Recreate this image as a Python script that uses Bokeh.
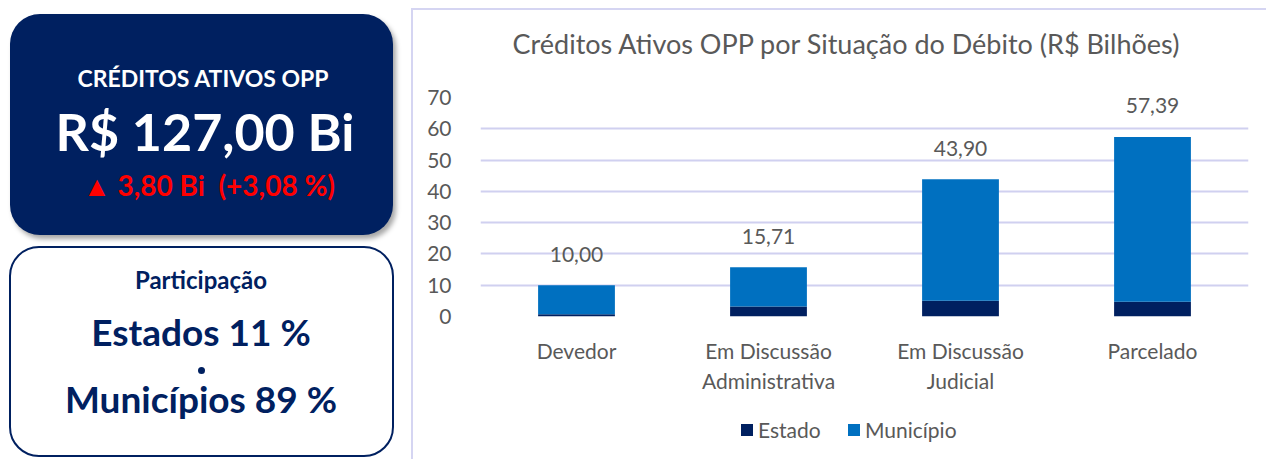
from bokeh.plotting import figure
from bokeh.models import (Range1d, FixedTicker, ColumnDataSource, LabelSet, FactorRange, Div)
from bokeh.layouts import row, column
from bokeh.embed import file_html
from bokeh.resources import INLINE
from bokeh.core.properties import value

# ---------------- data ----------------
categories = ["Devedor", "Em Discussão\nAdministrativa", "Em Discussão\nJudicial", "Parcelado"]
totals = [10.00, 15.71, 43.90, 57.39]
estado = [0.7, 3.2, 5.0, 4.7]
municipio = [round(t - e, 2) for t, e in zip(totals, estado)]
y_ticks = [0, 10, 20, 30, 40, 50, 60, 70]
series_names = ["Estado", "Município"]
series_colors = ["#002060", "#0070C0"]

kpi_title = "CRÉDITOS ATIVOS OPP"
kpi_value = "R$ 127,00 Bi"
kpi_change = "▲ 3,80 Bi  (+3,08 %)"
share_title = "Participação"
share_estados = "Estados 11 %"
share_municipios = "Municípios 89 %"
chart_title = "Créditos Ativos OPP por Situação do Débito (R$ Bilhões)"

FONT = "Lato"
NAVY = "#002060"
GRAY = "#595959"
GRID = "#D0D0F0"
BORDER = "#D5D5F2"


# ---------------- left cards (HTML) ----------------
def line(cx, baseline, text, size, color, weight="bold"):
    top = baseline - 0.887 * size
    return (f'<div style="position:absolute;left:{cx - 200}px;top:{top:.1f}px;width:400px;'
            f'text-align:center;font-family:{FONT};font-weight:{weight};font-size:{size}px;'
            f'line-height:1;color:{color};white-space:pre;">{text}</div>')

cards_html = (
    '<div style="position:relative;width:413px;height:459px;overflow:hidden;">'
    f'<div style="position:absolute;left:10px;top:14px;width:383px;height:221px;'
    f'background:{NAVY};border-radius:30px;box-shadow:3px 4px 5px rgba(0,0,0,0.35);"></div>'
    + line(203, 87, kpi_title, 23, "white")
    + line(205, 151, kpi_value, 52, "white")
    + line(209, 196, kpi_change, 28, "#FF0000")
    + f'<div style="position:absolute;left:9px;top:246px;width:385px;height:211px;'
      f'box-sizing:border-box;background:white;border:2.5px solid {NAVY};border-radius:30px;"></div>'
    + line(201, 289, share_title, 24, NAVY)
    + line(201, 346, share_estados, 37, NAVY)
    + f'<div style="position:absolute;left:197.5px;top:366.5px;width:7px;height:7px;'
      f'border-radius:50%;background:{NAVY};"></div>'
    + line(201, 413, share_municipios, 37, NAVY)
    + f'<div style="position:absolute;left:411px;top:8px;width:2px;height:451px;background:{BORDER};"></div>'
    '</div>'
)
cards = Div(text=cards_html, width=413, height=459, margin=0)

# ---------------- chart title + top edge (HTML) ----------------
title_html = (
    '<div style="position:relative;width:853px;height:72px;overflow:hidden;">'
    f'<div style="position:absolute;left:0;top:8px;width:853px;height:2px;background:{BORDER};"></div>'
    f'<div style="position:absolute;left:33px;top:30px;width:800px;text-align:center;'
    f'font-family:{FONT};font-size:27px;line-height:1;color:{GRAY};white-space:pre;">{chart_title}</div>'
    '</div>'
)
title_div = Div(text=title_html, width=853, height=72, margin=0)

# ---------------- bar chart ----------------
src = ColumnDataSource(dict(
    cat=categories, estado=estado, municipio=municipio, total=totals,
    label=[f"{t:.2f}".replace(".", ",") for t in totals],
))

p = figure(x_range=FactorRange(*categories), y_range=Range1d(0, 70), width=853, height=333,
           output_backend="svg", toolbar_location=None,
           min_border_left=67, min_border_right=18, min_border_top=25, min_border_bottom=89)
p.outline_line_color = None

p.vbar_stack(["estado", "municipio"], x="cat", width=0.4, color=series_colors,
             line_color=None, source=src)

labels = LabelSet(x="cat", y="total", text="label", source=src, y_offset=31,
                  text_align="center", text_baseline="middle", text_font=value(FONT),
                  text_font_size="21px", text_color=GRAY)
p.add_layout(labels)

p.yaxis.ticker = FixedTicker(ticks=y_ticks)
for ax in (p.xaxis[0], p.yaxis[0]):
    ax.axis_line_color = None
    ax.major_tick_line_color = None
    ax.minor_tick_line_color = None
    ax.major_label_text_font = FONT
    ax.major_label_text_font_size = "21px"
    ax.major_label_text_color = GRAY
p.yaxis.major_label_standoff = 23
p.xaxis.major_label_standoff = 15
p.xaxis.major_label_text_line_height = 1.2

p.xgrid.grid_line_color = None
p.ygrid.grid_line_color = GRID
p.ygrid.grid_line_width = 2

# ---------------- legend (HTML) ----------------
legend_lefts = [328, 435]
legend_html = '<div style="position:relative;width:853px;height:54px;overflow:hidden;">'
for name, color, lx in zip(series_names, series_colors, legend_lefts):
    legend_html += (
        f'<div style="position:absolute;left:{lx}px;top:19px;width:12px;height:12px;'
        f'background:{color};"></div>'
        f'<div style="position:absolute;left:{lx + 17}px;top:{32.5 - 0.887 * 21:.1f}px;'
        f'font-family:{FONT};font-size:21px;line-height:1;color:{GRAY};white-space:pre;">{name}</div>'
    )
legend_html += '</div>'
legend_div = Div(text=legend_html, width=853, height=54, margin=0)

layout = row(cards, column(title_div, p, legend_div))
open("out.html", "w").write(file_html(layout, INLINE))
